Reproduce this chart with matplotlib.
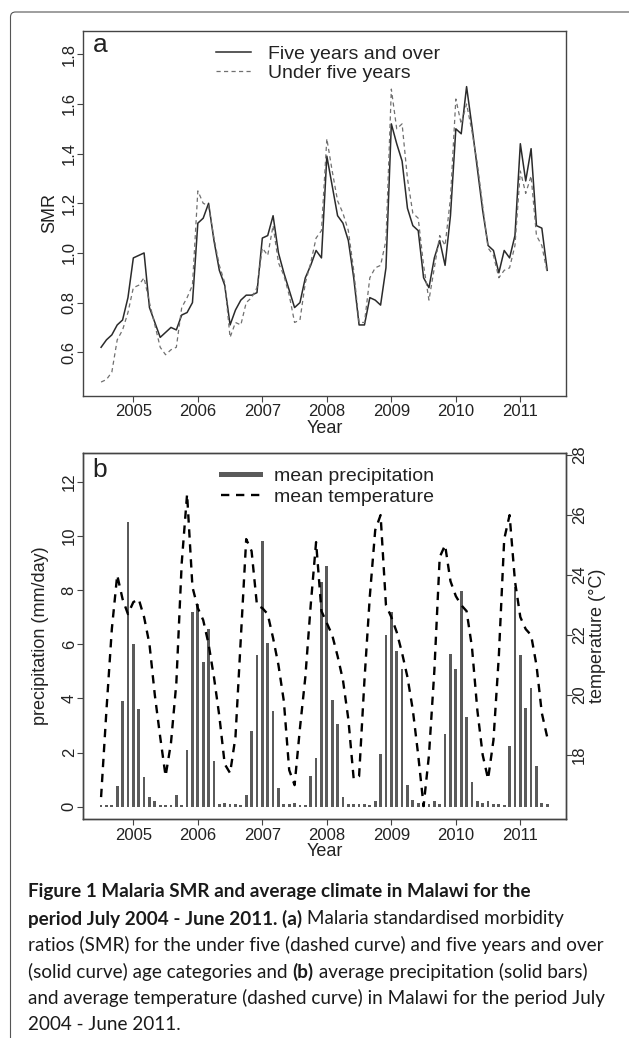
import numpy as np
import matplotlib.pyplot as plt
from matplotlib.lines import Line2D
from matplotlib.patches import FancyBboxPatch
from matplotlib.text import Annotation
from matplotlib.transforms import Affine2D

plt.rcParams["font.family"] = "Liberation Sans"
plt.rcParams["lines.scale_dashes"] = False

W, H = 629, 1038

# monthly values, July 2004 - June 2011
smr_five_over = [
    0.62, 0.65, 0.67, 0.71, 0.73, 0.82, 0.98, 0.99, 1.00, 0.78, 0.72, 0.66,
    0.68, 0.70, 0.69, 0.75, 0.76, 0.80, 1.12, 1.14, 1.20, 1.05, 0.93, 0.87,
    0.71, 0.77, 0.81, 0.83, 0.83, 0.84, 1.06, 1.07, 1.15, 1.00, 0.92, 0.85,
    0.78, 0.80, 0.90, 0.95, 1.01, 0.98, 1.39, 1.27, 1.15, 1.12, 1.05, 0.90,
    0.71, 0.71, 0.82, 0.81, 0.79, 0.94, 1.52, 1.44, 1.37, 1.18, 1.11, 1.09,
    0.90, 0.86, 0.98, 1.05, 0.95, 1.15, 1.50, 1.48, 1.67, 1.51, 1.34, 1.17,
    1.03, 1.01, 0.92, 1.01, 0.98, 1.07, 1.44, 1.29, 1.42, 1.11, 1.10, 0.93,
]
smr_under_five = [
    0.48, 0.49, 0.52, 0.65, 0.69, 0.76, 0.86, 0.87, 0.90, 0.80, 0.71, 0.62,
    0.59, 0.61, 0.62, 0.78, 0.82, 0.87, 1.25, 1.20, 1.19, 1.06, 0.95, 0.88,
    0.66, 0.72, 0.71, 0.80, 0.82, 0.86, 1.02, 0.99, 1.11, 0.96, 0.91, 0.83,
    0.72, 0.73, 0.88, 0.96, 1.06, 1.09, 1.46, 1.33, 1.21, 1.16, 1.09, 0.93,
    0.72, 0.72, 0.90, 0.94, 0.95, 1.05, 1.66, 1.50, 1.52, 1.30, 1.16, 1.14,
    0.95, 0.81, 0.94, 1.07, 1.03, 1.22, 1.62, 1.52, 1.60, 1.49, 1.36, 1.19,
    1.02, 0.99, 0.90, 0.93, 0.94, 1.03, 1.33, 1.24, 1.31, 1.07, 1.03, 0.92,
]
precipitation = [
    0.05, 0.07, 0.08, 0.75, 3.90, 10.50, 6.00, 3.60, 1.10, 0.35, 0.20, 0.05,
    0.05, 0.05, 0.45, 0.05, 2.10, 7.20, 7.50, 5.35, 6.55, 1.70, 0.12, 0.15,
    0.12, 0.10, 0.08, 0.45, 2.80, 5.60, 9.80, 6.05, 3.55, 0.70, 0.10, 0.10,
    0.15, 0.05, 0.05, 1.15, 1.80, 8.30, 8.90, 3.95, 3.05, 0.35, 0.10, 0.10,
    0.10, 0.10, 0.05, 0.20, 1.95, 6.35, 7.20, 5.75, 5.10, 0.80, 0.25, 0.15,
    0.05, 0.10, 0.20, 0.10, 2.70, 5.65, 5.10, 7.95, 3.30, 0.90, 0.20, 0.15,
    0.20, 0.10, 0.10, 0.05, 2.25, 8.10, 5.60, 3.65, 4.40, 1.50, 0.15, 0.10,
]
temperature = [
    16.6, 19.5, 22.2, 24.0, 23.2, 22.7, 23.1, 23.2, 22.6, 21.7, 20.0, 18.6,
    17.3, 18.4, 20.4, 24.4, 26.7, 23.6, 22.9, 22.5, 21.7, 20.6, 19.3, 17.7,
    17.4, 18.6, 21.9, 25.2, 24.8, 23.0, 22.9, 22.7, 21.9, 21.0, 19.8, 17.5,
    17.0, 18.9, 20.6, 23.0, 25.1, 22.8, 22.4, 22.0, 21.3, 20.5, 19.2, 17.2,
    17.3, 20.5, 23.3, 25.5, 26.0, 23.0, 22.6, 22.1, 21.4, 20.6, 19.5, 18.0,
    16.3, 18.0, 20.8, 24.6, 25.0, 23.8, 23.3, 23.0, 22.8, 21.6, 19.5, 18.0,
    17.2, 18.5, 21.3, 25.2, 26.0, 23.8, 22.6, 22.2, 22.0, 21.0, 19.4, 18.6,
]
year_ticks = [2005, 2006, 2007, 2008, 2009, 2010, 2011]
smr_ticks = [0.6, 0.8, 1.0, 1.2, 1.4, 1.6, 1.8]
precip_ticks = [0, 2, 4, 6, 8, 10, 12]
temp_ticks = [18, 20, 22, 24, 26, 28]

months = 2004.5 + np.arange(len(smr_five_over)) / 12.0

fig = plt.figure(figsize=(W / 100, H / 100), dpi=100)
px = Affine2D().scale(1 / 100) + fig.dpi_scale_trans


def add_axes_px(left, top, right, bottom):
    return fig.add_axes([left / W, 1 - bottom / H, (right - left) / W, (bottom - top) / H])


def r_style(ax):
    for s in ax.spines.values():
        s.set_color("#444444")
        s.set_linewidth(1.0)
    ax.tick_params(direction="out", length=4.3, width=0.8, color="#444444",
                   labelsize=12, labelcolor="#222222")
    ax.tick_params(axis="y", labelrotation=90, pad=0)
    ax.tick_params(axis="x", pad=2)


XL, XR = 82.7, 566
# ---- panel a
ax1 = add_axes_px(XL, 31, XR, 395.7)
ax1.plot(months, smr_five_over, color="#2b2b2b", lw=1.1, label="Five years and over")
ax1.plot(months, smr_under_five, color="#707070", lw=0.9, dashes=(3, 2.4),
         label="Under five years")
ax1.set_xlim(2004.215, 2011.708)
ax1.set_ylim(0.425, 1.894)
ax1.set_xticks(year_ticks)
ax1.set_yticks(smr_ticks)
ax1.set_yticklabels([f"{v:.1f}" for v in smr_ticks], va="center")
r_style(ax1)
ax1.set_xlabel("Year", fontsize=13, color="#222222", va="center")
ax1.xaxis.set_label_coords(0.5, (395.7 - 428) / 364.7)
ax1.set_ylabel("SMR", fontsize=13, color="#222222", va="center")
ax1.yaxis.set_label_coords((50 - XL) / (XR - XL), 0.5)
ax1.text((100 - XL) / (XR - XL), (395.7 - 45) / 364.7, "a", fontsize=19,
         ha="center", va="center", color="#222222", transform=ax1.transAxes)
ax1.legend(loc="upper left", bbox_to_anchor=((216 - XL) / (XR - XL), (395.7 - 45) / 364.7),
           frameon=False, fontsize=14, handlelength=1.8, handletextpad=0.9,
           labelspacing=0.1, borderpad=0, borderaxespad=0, labelcolor="#222222")

# ---- panel b
ax2 = add_axes_px(XL, 453, XR, 819)
ax2.bar(months, precipitation, width=0.042, color="#5a5a5a")
ax2.set_xlim(2004.215, 2011.708)
ax2.set_ylim(-0.45, 13.06)
ax2.set_xticks(year_ticks)
ax2.set_yticks(precip_ticks)
ax2.set_yticklabels([str(v) for v in precip_ticks], va="center")
r_style(ax2)
ax2.set_xlabel("Year", fontsize=13, color="#222222", va="center")
ax2.xaxis.set_label_coords(0.5, (819 - 852) / 366)
ax2.set_ylabel("precipitation (mm/day)", fontsize=13, color="#222222", va="center")
ax2.yaxis.set_label_coords((41 - XL) / (XR - XL), 0.5)

ax3 = ax2.twinx()
ax3.plot(months, temperature, color="black", lw=1.7, dashes=(6, 4.8))
ax3.set_ylim(15.87, 28.07)
ax3.set_yticks(temp_ticks)
ax3.set_yticklabels([str(v) for v in temp_ticks], va="center")
r_style(ax3)
ax3.set_ylabel("temperature (\u00b0C)", fontsize=13, color="#222222", va="center",
               rotation=90)
ax3.yaxis.set_label_coords((598 - XL) / (XR - XL), 0.5)
ax2.text((100 - XL) / (XR - XL), (819 - 470) / 366, "b", fontsize=19,
         ha="center", va="center", color="#222222", transform=ax2.transAxes)
handles = [Line2D([], [], color="#5a5a5a", lw=3.6),
           Line2D([], [], color="black", lw=1.7, dashes=(6, 4.8))]
ax3.legend(handles, ["mean precipitation", "mean temperature"], loc="upper left",
           bbox_to_anchor=((221 - XL) / (XR - XL), (819 - 467) / 366),
           frameon=False, fontsize=14, handlelength=2.0, handletextpad=0.75,
           labelspacing=0.2, borderpad=0, borderaxespad=0, labelcolor="#222222")

# ---- page frame
frame = FancyBboxPatch((10.5, -30), 700, H - 12 + 30, boxstyle="round,pad=0,rounding_size=5",
                       fill=False, ec="#555555", lw=0.8, transform=px)
fig.add_artist(frame)

# ---- caption (bold and regular runs chained along each line)
cap_lines = [
    [("Figure 1 Malaria SMR and average climate in Malawi for the", "bold")],
    [("period July 2004 - June 2011. (a)", "bold"), (" Malaria standardised morbidity", "normal")],
    [("ratios (SMR) for the under five (dashed curve) and five years and over", "normal")],
    [("(solid curve) age categories and ", "normal"), ("(b)", "bold"),
     (" average precipitation (solid bars)", "normal")],
    [("and average temperature (dashed curve) in Malawi for the period July", "normal")],
    [("2004 - June 2011.", "normal")],
]
renderer = fig.canvas.get_renderer()
probe = fig.text(0, 0, cap_lines[2][0][0], fontsize=12, family="Lato")
cap_size = 12 * 572 / probe.get_window_extent(renderer).width
probe.remove()

cap_y = [892, 918.5, 945, 971.5, 998, 1024]
for y, segs in zip(cap_y, cap_lines):
    prev = None
    for text, weight in segs:
        if prev is None:
            prev = fig.text(28, H - y, text, fontsize=cap_size, family="Lato",
                            weight=weight, color="#1a1a1a", va="center", ha="left",
                            transform=px)
        else:
            nxt = Annotation(text, xy=(1, 0.5), xycoords=prev, fontsize=cap_size,
                             family="Lato", weight=weight, color="#1a1a1a",
                             va="center", ha="left")
            fig.add_artist(nxt)
            prev = nxt

fig.savefig("out.png", dpi=100)
